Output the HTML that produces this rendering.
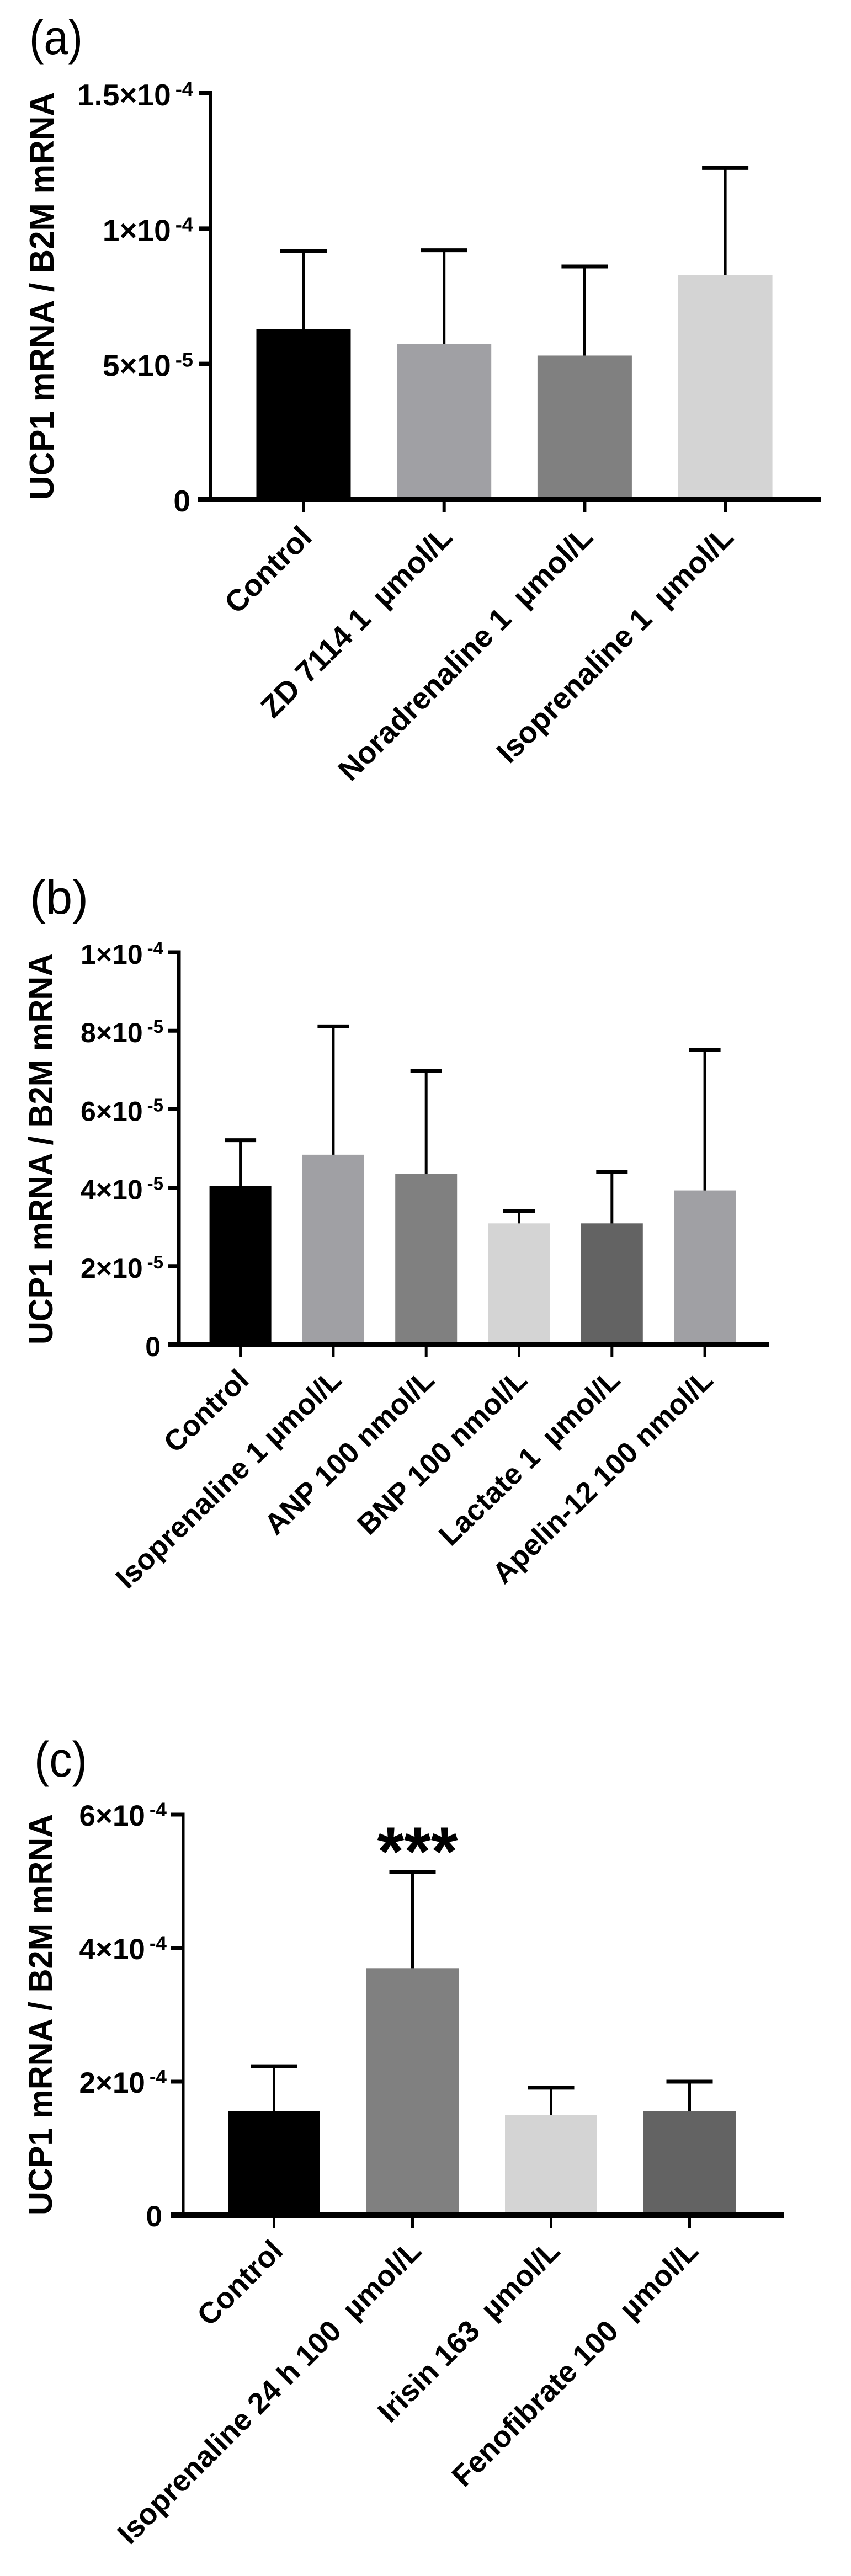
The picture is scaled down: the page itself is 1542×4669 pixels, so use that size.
<!DOCTYPE html>
<html lang="en">
<head>
<meta charset="utf-8">
<title>UCP1 mRNA / B2M mRNA bar charts</title>
<style>
html,body{margin:0;padding:0;background:#fff;}
svg{display:block;}
text{font-family:"Liberation Sans",Arial,sans-serif;fill:#000;}
</style>
</head>
<body>
<svg id="figure" xmlns="http://www.w3.org/2000/svg" width="1542" height="4669" viewBox="0 0 1542 4669">
  <rect x="0" y="0" width="1542" height="4669" fill="#fff"/>

  <g id="panel-a">
    <text x="53" y="98" font-size="88" textLength="97" lengthAdjust="spacingAndGlyphs">(a)</text>
    <text transform="translate(97 906) rotate(-90)" font-size="62" font-weight="bold" textLength="739" lengthAdjust="spacingAndGlyphs">UCP1 mRNA / B2M mRNA</text>
  </g>

  <g id="panel-b">
    <text x="54" y="1656" font-size="86" textLength="106" lengthAdjust="spacingAndGlyphs">(b)</text>
    <text transform="translate(95 2437) rotate(-90)" font-size="61" font-weight="bold" textLength="709" lengthAdjust="spacingAndGlyphs">UCP1 mRNA / B2M mRNA</text>
  </g>

  <g id="panel-c">
    <text x="62" y="3220" font-size="90" textLength="96" lengthAdjust="spacingAndGlyphs">(c)</text>
    <text transform="translate(94 4015) rotate(-90)" font-size="60" font-weight="bold" textLength="727" lengthAdjust="spacingAndGlyphs">UCP1 mRNA / B2M mRNA</text>
  </g>
</svg>

<script>
// ---- Panel (a) data ----
const panelACategories = ["Control", "ZD 7114 1\u00A0\u00A0\u00B5mol/L", "Noradrenaline 1\u00A0\u00A0\u00B5mol/L", "Isoprenaline 1\u00A0\u00A0\u00B5mol/L"];
const panelAMeans = [6.29e-5, 5.73e-5, 5.31e-5, 8.29e-5];
const panelAErrors = [2.87e-5, 3.47e-5, 3.29e-5, 3.95e-5];
const panelATickValues = [0, 5e-5, 1e-4, 1.5e-4];
const panelATickMantissas = ["0", "5", "1", "1.5"];
const panelATickExponents = ["", "-5", "-4", "-4"];
const panelAAnnotations = ["", "", "", ""];

// ---- Panel (b) data ----
const panelBCategories = ["Control", "Isoprenaline 1 \u00B5mol/L", "ANP 100 nmol/L", "BNP 100 nmol/L", "Lactate 1\u00A0\u00A0\u00B5mol/L", "Apelin-12 100 nmol/L"];
const panelBMeans = [4.04e-5, 4.84e-5, 4.35e-5, 3.09e-5, 3.09e-5, 3.93e-5];
const panelBErrors = [1.17e-5, 3.27e-5, 2.63e-5, 0.32e-5, 1.32e-5, 3.58e-5];
const panelBTickValues = [0, 2e-5, 4e-5, 6e-5, 8e-5, 1e-4];
const panelBTickMantissas = ["0", "2", "4", "6", "8", "1"];
const panelBTickExponents = ["", "-5", "-5", "-5", "-5", "-4"];
const panelBAnnotations = ["", "", "", "", "", ""];

// ---- Panel (c) data ----
const panelCCategories = ["Control", "Isoprenaline 24 h 100\u00A0\u00A0\u00B5mol/L", "Irisin 163\u00A0\u00A0\u00B5mol/L", "Fenofibrate 100\u00A0\u00A0\u00B5mol/L"];
const panelCMeans = [1.56e-4, 3.70e-4, 1.496e-4, 1.554e-4];
const panelCErrors = [0.67e-4, 1.44e-4, 0.414e-4, 0.446e-4];
const panelCTickValues = [0, 2e-4, 4e-4, 6e-4];
const panelCTickMantissas = ["0", "2", "4", "6"];
const panelCTickExponents = ["", "-4", "-4", "-4"];
const panelCAnnotations = ["", "***", "", ""];

// ---- Bar colours ----
const panelAFills = ["#000000", "#a0a0a4", "#808080", "#d4d4d4"];
const panelBFills = ["#000000", "#a0a0a4", "#808080", "#d4d4d4", "#636363", "#a0a0a4"];
const panelCFills = ["#000000", "#808080", "#d4d4d4", "#636363"];

const SVG_NS = "http://www.w3.org/2000/svg";

function line(parent, x1, y1, x2, y2, width) {
  const el = document.createElementNS(SVG_NS, "line");
  el.setAttribute("x1", x1);
  el.setAttribute("y1", y1);
  el.setAttribute("x2", x2);
  el.setAttribute("y2", y2);
  el.setAttribute("stroke", "#000");
  el.setAttribute("stroke-width", width);
  parent.appendChild(el);
  return el;
}

function drawPanel(id, data, geo) {
  const root = document.getElementById(id);
  const yScale = function (v) { return geo.yBase - (v / geo.yMax) * (geo.yBase - geo.yTop); };
  const xScale = function (i) { return geo.firstCenter + i * geo.step; };

  data.categories.forEach(function (cat, i) {
    const cx = xScale(i);
    const topY = yScale(data.means[i] + data.errors[i]);
    const barY = yScale(data.means[i]);

    const stem = line(root, cx, barY + 2, cx, topY, geo.errWidth);
    
    

    const cap = line(root, cx - geo.capWidth / 2, topY, cx + geo.capWidth / 2, topY, geo.capThick);
    
    

    const bar = document.createElementNS(SVG_NS, "rect");
    bar.setAttribute("x", cx - geo.barWidth / 2);
    bar.setAttribute("y", barY);
    bar.setAttribute("width", geo.barWidth);
    bar.setAttribute("height", geo.yBase - barY);
    bar.setAttribute("fill", data.fills[i]);
    
    
    root.appendChild(bar);

    const tick = line(root, cx, geo.yBase, cx, geo.xTickEnd, geo.xTickWidth);
    
    

    const label = document.createElementNS(SVG_NS, "text");
    label.textContent = cat;
    label.setAttribute("text-anchor", "end");
    label.setAttribute("font-size", geo.labelSize);
    label.setAttribute("font-weight", "bold");
    label.setAttribute("transform", "translate(" + (cx + geo.labelDx) + " " + (geo.yBase + geo.labelDy) + ") rotate(" + geo.labelAngle + ")");
    
    
    root.appendChild(label);

    if (data.annotations[i]) {
      const note = document.createElementNS(SVG_NS, "text");
      note.textContent = data.annotations[i];
      note.setAttribute("x", cx + 9);
      note.setAttribute("y", topY + 6);
      note.setAttribute("text-anchor", "middle");
      note.setAttribute("font-size", 125);
      note.setAttribute("font-weight", "bold");
      
      
      root.appendChild(note);
    }
  });

  const yAxis = line(root, geo.yAxisX, geo.yTop - geo.yTickThick / 2, geo.yAxisX, geo.yBase, geo.yAxisWidth);
  
  

  const xAxis = line(root, geo.xAxisStart, geo.yBase, geo.xAxisEnd, geo.yBase, geo.xAxisThick);
  
  

  data.tickValues.forEach(function (v, i) {
    const ty = yScale(v);
    if (v !== 0) {
      const tick = line(root, geo.yTickStart, ty, geo.yAxisX, ty, geo.yTickThick);
      
      
    }
    const txt = document.createElementNS(SVG_NS, "text");
    txt.setAttribute("text-anchor", "end");
    txt.setAttribute("font-weight", "bold");
    txt.setAttribute("font-size", geo.tickSize);
    txt.setAttribute("y", ty + geo.tickBaseline);
    
    
    if (data.tickExponents[i]) {
      txt.setAttribute("x", geo.tickLabelRight);
      const base = document.createElementNS(SVG_NS, "tspan");
      base.textContent = data.tickMantissas[i] + "\u00D710";
      txt.appendChild(base);
      const sup = document.createElementNS(SVG_NS, "tspan");
      sup.textContent = data.tickExponents[i];
      sup.setAttribute("dx", 8);
      sup.setAttribute("dy", -17);
      sup.setAttribute("font-size", geo.tickSize * 0.66);
      txt.appendChild(sup);
    } else {
      txt.setAttribute("x", geo.zeroLabelRight);
      txt.textContent = data.tickMantissas[i];
    }
    root.appendChild(txt);
  });
}

drawPanel("panel-a",
  { categories: panelACategories, means: panelAMeans, errors: panelAErrors, fills: panelAFills, tickValues: panelATickValues, tickMantissas: panelATickMantissas, tickExponents: panelATickExponents, annotations: panelAAnnotations },
  { yMax: 1.5e-4, yTop: 169, yBase: 905, firstCenter: 550, step: 254.7, barWidth: 171, capWidth: 84, capThick: 7, errWidth: 5, xTickEnd: 928, xTickWidth: 6, yAxisX: 381, yAxisWidth: 6, yTickStart: 360, yTickThick: 8, xAxisStart: 359, xAxisEnd: 1488, xAxisThick: 10, tickSize: 55, tickBaseline: 22, tickLabelRight: 350, zeroLabelRight: 345, labelSize: 55, labelAngle: -45, labelDx: 18, labelDy: 72 });

drawPanel("panel-b",
  { categories: panelBCategories, means: panelBMeans, errors: panelBErrors, fills: panelBFills, tickValues: panelBTickValues, tickMantissas: panelBTickMantissas, tickExponents: panelBTickExponents, annotations: panelBAnnotations },
  { yMax: 1e-4, yTop: 1726, yBase: 2437, firstCenter: 435.6, step: 168.3, barWidth: 112, capWidth: 57, capThick: 7, errWidth: 5, xTickEnd: 2460, xTickWidth: 5, yAxisX: 324, yAxisWidth: 7, yTickStart: 304, yTickThick: 7, xAxisStart: 304, xAxisEnd: 1393, xAxisThick: 10, tickSize: 50, tickBaseline: 21, tickLabelRight: 296, zeroLabelRight: 291, labelSize: 53, labelAngle: -44, labelDx: 18, labelDy: 68 });

drawPanel("panel-c",
  { categories: panelCCategories, means: panelCMeans, errors: panelCErrors, fills: panelCFills, tickValues: panelCTickValues, tickMantissas: panelCTickMantissas, tickExponents: panelCTickExponents, annotations: panelCAnnotations },
  { yMax: 6e-4, yTop: 3289, yBase: 4015, firstCenter: 496.5, step: 251, barWidth: 167, capWidth: 84, capThick: 7, errWidth: 5, xTickEnd: 4038, xTickWidth: 5, yAxisX: 332, yAxisWidth: 5, yTickStart: 310, yTickThick: 7, xAxisStart: 310, xAxisEnd: 1421, xAxisThick: 10, tickSize: 53, tickBaseline: 20, tickLabelRight: 302, zeroLabelRight: 294, labelSize: 54, labelAngle: -45, labelDx: 19, labelDy: 68 });
</script>
</body>
</html>
